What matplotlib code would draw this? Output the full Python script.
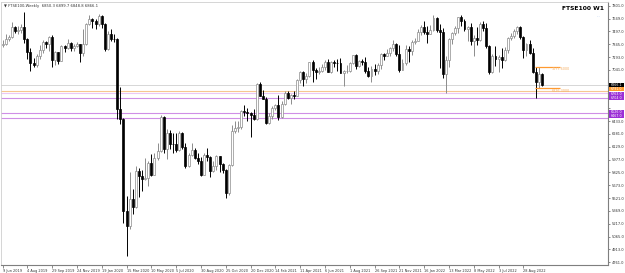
import numpy as np
import matplotlib
matplotlib.use("Agg")
import matplotlib.pyplot as plt
from matplotlib.patches import Rectangle

# --- datos semanales FTSE100 ---
opens = [7331, 7346, 7407, 7426, 7553, 7506, 7508, 7549, 7407, 7254,
         7117, 7095, 7207, 7282, 7367, 7345, 7426, 7155, 7247, 7150,
         7324, 7302, 7359, 7303, 7326, 7347, 7240, 7353, 7582, 7645,
         7622, 7588, 7675, 7586, 7286, 7467, 7409, 7404, 6581, 6463,
         5366, 5190, 5510, 5416, 5843, 5787, 5752, 5763, 5936, 5800,
         5994, 6077, 6484, 6105, 6293, 6159, 6157, 6095, 6290, 6123,
         5898, 6032, 6090, 6001, 5963, 5799, 6032, 6007, 5842, 5902,
         6017, 5920, 5860, 5577, 5910, 6316, 6351, 6367, 6550, 6547,
         6529, 6502, 6461, 6873, 6736, 6695, 6407, 6489, 6589, 6624,
         6483, 6631, 6761, 6709, 6741, 6737, 6916, 7020, 6938, 6970,
         7130, 7044, 7018, 7023, 7069, 7134, 7017, 7136, 7123, 7122,
         7008, 7027, 7032, 7122, 7218, 7087, 7148, 7138, 7029, 6963,
         7051, 7027, 7095, 7234, 7204, 7237, 7304, 7348, 7223, 7044,
         7122, 7292, 7270, 7372, 7385, 7485, 7543, 7494, 7466, 7516,
         7661, 7514, 7489, 6987, 7156, 7405, 7483, 7538, 7670, 7616,
         7522, 7545, 7388, 7418, 7390, 7585, 7533, 7318, 7016, 7209,
         7169, 7196, 7159, 7276, 7423, 7440, 7501, 7550, 7427, 7281,
         7351, 7237, 7019, 6894, 6991]
highs = [7390, 7460, 7450, 7605, 7560, 7560, 7590, 7727, 7420, 7300,
         7180, 7225, 7330, 7390, 7380, 7440, 7450, 7270, 7250, 7340,
         7340, 7410, 7370, 7345, 7370, 7350, 7520, 7600, 7690, 7660,
         7640, 7700, 7690, 7600, 7500, 7530, 7460, 7420, 6840, 6470,
         5550, 5830, 5630, 5900, 5880, 5860, 6000, 5960, 6040, 6050,
         6170, 6511, 6490, 6340, 6330, 6290, 6290, 6320, 6300, 6170,
         6060, 6170, 6120, 6050, 6010, 6060, 6110, 6020, 5960, 6030,
         6020, 5940, 5870, 5930, 6390, 6430, 6440, 6560, 6620, 6590,
         6540, 6580, 6880, 6900, 6800, 6720, 6530, 6610, 6640, 6740,
         6670, 6790, 6790, 6750, 6790, 6930, 7030, 7030, 7000, 7130,
         7160, 7060, 7080, 7110, 7160, 7170, 7140, 7160, 7170, 7180,
         7040, 7100, 7130, 7220, 7230, 7160, 7170, 7190, 7080, 7090,
         7110, 7120, 7240, 7240, 7290, 7310, 7390, 7360, 7340, 7170,
         7340, 7320, 7390, 7420, 7530, 7570, 7620, 7560, 7570, 7690,
         7670, 7590, 7540, 7200, 7420, 7490, 7560, 7670, 7690, 7640,
         7560, 7600, 7450, 7550, 7610, 7620, 7600, 7330, 7230, 7320,
         7220, 7300, 7310, 7430, 7480, 7520, 7560, 7560, 7440, 7360,
         7400, 7300, 7080, 7078, 7000]
lows = [7312, 7330, 7380, 7420, 7480, 7460, 7480, 7360, 7175, 7030,
        7070, 7080, 7170, 7240, 7300, 7270, 7070, 7100, 7110, 7140,
        7250, 7290, 7260, 7260, 7310, 7130, 7200, 7340, 7570, 7540,
        7520, 7560, 7540, 7270, 7280, 7380, 7370, 6460, 6400, 5230,
        4830, 5160, 5330, 5400, 5540, 5600, 5740, 5670, 5780, 5790,
        5970, 6070, 6060, 5990, 6100, 6060, 6070, 6080, 6100, 5880,
        5890, 6020, 5990, 5930, 5780, 5790, 5960, 5770, 5830, 5860,
        5830, 5820, 5526, 5560, 5900, 6290, 6300, 6340, 6500, 6440,
        6250, 6450, 6450, 6730, 6690, 6400, 6400, 6460, 6560, 6450,
        6470, 6620, 6690, 6640, 6690, 6730, 6880, 6850, 6890, 6960,
        6900, 6930, 6990, 7010, 7040, 7010, 7000, 7080, 7030, 7000,
        6850, 7000, 7020, 7110, 7050, 7080, 7100, 7000, 6960, 6900,
        6980, 6990, 7050, 7160, 7200, 7210, 7270, 7200, 7020, 7040,
        7100, 7130, 7220, 7350, 7380, 7450, 7470, 7360, 7460, 7500,
        7490, 7060, 6950, 6770, 7080, 7350, 7450, 7480, 7560, 7500,
        7380, 7340, 7200, 7330, 7380, 7500, 7300, 6990, 7000, 7090,
        7020, 7060, 7150, 7240, 7400, 7420, 7460, 7410, 7180, 7200,
        7230, 7000, 6708, 6826, 6850]
closes = [7346, 7407, 7426, 7553, 7506, 7508, 7549, 7407, 7254, 7117,
          7095, 7207, 7282, 7367, 7345, 7426, 7155, 7247, 7150, 7324,
          7302, 7359, 7303, 7326, 7347, 7240, 7353, 7582, 7645, 7622,
          7588, 7675, 7586, 7286, 7467, 7409, 7404, 6581, 6463, 5366,
          5190, 5510, 5416, 5843, 5787, 5752, 5763, 5936, 5800, 5994,
          6077, 6484, 6105, 6293, 6159, 6157, 6095, 6290, 6123, 5898,
          6032, 6090, 6001, 5963, 5799, 6032, 6007, 5842, 5902, 6017,
          5920, 5860, 5577, 5910, 6316, 6351, 6367, 6550, 6547, 6529,
          6502, 6461, 6873, 6736, 6695, 6407, 6489, 6589, 6624, 6483,
          6631, 6761, 6709, 6741, 6737, 6916, 7020, 6938, 6970, 7130,
          7044, 7018, 7023, 7069, 7134, 7017, 7136, 7123, 7122, 7008,
          7027, 7032, 7122, 7218, 7087, 7148, 7138, 7029, 6963, 7051,
          7027, 7095, 7234, 7204, 7237, 7304, 7348, 7223, 7044, 7122,
          7292, 7270, 7372, 7385, 7485, 7543, 7494, 7466, 7516, 7661,
          7514, 7489, 6987, 7156, 7405, 7483, 7538, 7670, 7616, 7522,
          7545, 7388, 7418, 7390, 7585, 7533, 7318, 7016, 7209, 7169,
          7196, 7159, 7276, 7423, 7440, 7501, 7550, 7427, 7281, 7351,
          7237, 7019, 6894, 6991, 6866.1]

fechas = ["9 Jun 2019", "4 Aug 2019", "29 Sep 2019", "24 Nov 2019", "19 Jan 2020",
          "15 Mar 2020", "10 May 2020", "5 Jul 2020", "30 Aug 2020", "25 Oct 2020",
          "20 Dec 2020", "14 Feb 2021", "11 Apr 2021", "6 Jun 2021", "1 Aug 2021",
          "26 Sep 2021", "21 Nov 2021", "16 Jan 2022", "13 Mar 2022", "8 May 2022",
          "3 Jul 2022", "28 Aug 2022"]
precios_eje = [7801, 7649, 7497, 7345, 7193, 7041, 6889, 6737, 6585, 6433, 6281,
               6129, 5977, 5825, 5673, 5521, 5369, 5217, 5065, 4913, 4761]
ocultos = [6889, 6737, 6585]  # tapados por las cajas de precio

# niveles horizontales
nivel_actual = 6866.1
nivel_naranja = 6791.0
niveles_lila = [6763.0, 6704.0, 6526.0, 6467.0]
rango_alto = 7077.6
rango_bajo = 6826.3

W, H = 625, 273
fig = plt.figure(figsize=(W / 100, H / 100), dpi=100)
fig.patch.set_facecolor("white")
ax = fig.add_axes([1 / W, 8 / H, 607 / W, 263 / H])

n = len(closes)
x = np.arange(n)
o = np.array(opens, dtype=float)
h = np.array(highs, dtype=float)
l = np.array(lows, dtype=float)
c = np.array(closes, dtype=float)
sube = c >= o

# mechas
ax.vlines(x[sube], l[sube], h[sube], color="#8c8c8c", lw=0.7, zorder=3)
ax.vlines(x[~sube], l[~sube], h[~sube], color="black", lw=0.7, zorder=3)
# cuerpos
ax.bar(x[sube], c[sube] - o[sube], bottom=o[sube], width=0.62,
       color="white", edgecolor="#8c8c8c", lw=0.5, zorder=4)
ax.bar(x[~sube], o[~sube] - c[~sube], bottom=c[~sube], width=0.62,
       color="black", edgecolor="black", lw=0.5, zorder=4)

# líneas horizontales
ax.axhline(nivel_actual, color="#d6d6d6", lw=0.7, zorder=1)
ax.axhline(nivel_naranja, color="#f6c690", lw=0.8, zorder=1)
ax.axhline(niveles_lila[0], color="#ecc8f6", lw=0.8, zorder=1)
for p in niveles_lila[1:]:
    ax.axhline(p, color="#cf8fe6", lw=0.8, zorder=1)

# rango naranja
ax.hlines([rango_alto, rango_bajo], 171.8, 179.8, color="#ff9a30", lw=0.9, zorder=5)
ax.text(183.0, rango_alto - 8, "%.4f" % rango_alto, fontsize=2.4, color="#f5b066",
        ha="right", va="top", zorder=6)
ax.text(183.0, rango_bajo - 8, "%.4f" % rango_bajo, fontsize=2.4, color="#f5b066",
        ha="right", va="top", zorder=6)

ax.set_xlim(-0.5, 195.3)
ax.set_ylim(4729.0, 7844.8)

# ejes
ax.yaxis.tick_right()
ax.set_yticks(precios_eje)
ax.set_yticklabels(["" if p in ocultos else "%.1f" % p for p in precios_eje],
                   fontsize=2.6, color="#333333")
ax.tick_params(axis="y", length=1.5, width=0.4, pad=1, colors="#333333")
ax.set_xticks(np.arange(len(fechas)) * 8)
ax.set_xticklabels(fechas, fontsize=2.5, color="#333333", ha="left")
ax.tick_params(axis="x", length=2, width=0.4, pad=1, colors="#333333")
for s in ["right", "bottom"]:
    ax.spines[s].set_color("#7f7f7f")
    ax.spines[s].set_linewidth(0.8)
for s in ["left", "top"]:
    ax.spines[s].set_color("#cfcfcf")
    ax.spines[s].set_linewidth(0.6)

# cajas de precio a la derecha (alto 4 px cada una)
cajas = [(85.0, "black", "%.1f" % nivel_actual),
         (89.4, "#ff9a2e", "%.1f" % nivel_naranja),
         (93.8, "#9b2fd6", "%.1f" % niveles_lila[0]),
         (98.2, "#9b2fd6", "%.1f" % niveles_lila[1]),
         (111.8, "#9b2fd6", "%.1f" % niveles_lila[2]),
         (116.2, "#9b2fd6", "%.1f" % niveles_lila[3])]
for ypx, col, txt in cajas:
    fig.add_artist(Rectangle((609 / W, 1 - (ypx + 2.1) / H), 15 / W, 4.2 / H,
                             transform=fig.transFigure, fc=col, ec="none", zorder=5))
    fig.text(610.5 / W, 1 - ypx / H, txt, fontsize=2.3, color="white", va="center",
             ha="left", zorder=6)

# textos
fig.text(4 / W, 1 - 6 / H, "\u25bc FTSE100,Weekly  6850.3 6899.7 6848.8 6866.1",
         fontsize=2.7, color="#333333", va="center", ha="left")
fig.text(604 / W, 1 - 8.5 / H, "FTSE100 W1", fontsize=4.3, fontweight="bold",
         color="black", va="center", ha="right")
fig.text(600 / W, 1 - 17 / H, "\u00b7\u00b7\u00b7", fontsize=3, color="#8ab4e8",
         va="center", ha="right")

fig.savefig("out.png", dpi=100, facecolor="white")
